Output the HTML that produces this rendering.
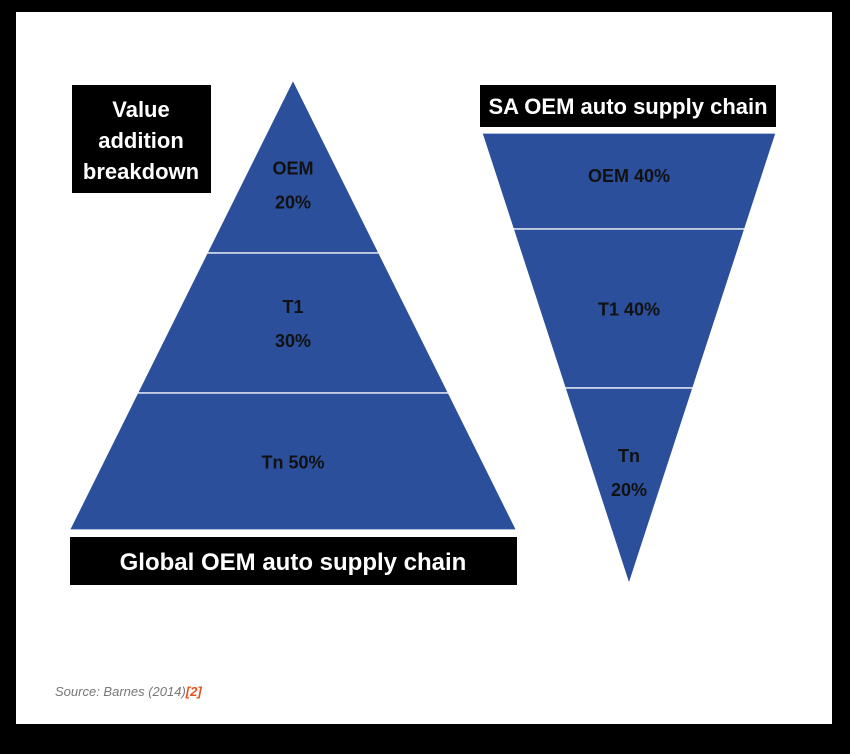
<!DOCTYPE html>
<html><head><meta charset="utf-8"><style>
body{margin:0;background:#000;width:850px;height:749px;overflow:hidden;font-family:"Liberation Sans",sans-serif}
</style></head><body>
<svg width="850" height="749">
<rect x="16" y="12" width="816" height="712" fill="#fff"/>
<g id="left"></g>
<g id="right"></g>
<rect x="72" y="85" width="139" height="108" fill="#000"/>
<text x="141" y="117" fill="#fff" font-size="22" font-weight="bold" text-anchor="middle"><tspan x="141">Value</tspan><tspan x="141" dy="31">addition</tspan><tspan x="141" dy="31">breakdown</tspan></text>
<rect x="70" y="537" width="447" height="48" fill="#000"/>
<text x="293" y="570" fill="#fff" font-size="24" font-weight="bold" text-anchor="middle">Global OEM auto supply chain</text>
<rect x="480" y="85" width="296" height="42" fill="#000"/>
<text x="628" y="114" fill="#fff" font-size="22" font-weight="bold" text-anchor="middle">SA OEM auto supply chain</text>
<text x="55" y="696" fill="#777" font-size="13" font-style="italic">Source: Barnes (2014)<tspan fill="#e8501e" font-weight="bold">[2]</tspan></text>
</svg>
<script>
const leftLabels=[["OEM","20%"],["T1","30%"],["Tn 50%"]];
const leftShares=[20,30,50];
const rightLabels=[["OEM 40%"],["T1 40%"],["Tn","20%"]];
const rightShares=[40,40,20];
const NS="http://www.w3.org/2000/svg";
function draw(g,labels,shares,apexX,yTop,yBot,halfBase,inverted){
  // height split proportional to share, top to bottom (layers listed top-first)
  const H=yBot-yTop;const tot=shares.reduce((a,b)=>a+b,0);
  const hw=y=>inverted?halfBase*(yBot-y)/H:halfBase*(y-yTop)/H;
  let y=yTop;
  shares.forEach((s,i)=>{
    const y2=y+H*s/tot;
    const p=document.createElementNS(NS,'polygon');
    p.setAttribute('points',`${apexX-hw(y)},${y} ${apexX+hw(y)},${y} ${apexX+hw(y2)},${y2} ${apexX-hw(y2)},${y2}`);
    p.setAttribute('fill','#2b4f9b');p.setAttribute('stroke','#fff');p.setAttribute('stroke-width','1.2');
    
    
    g.appendChild(p);
    const t=document.createElementNS(NS,'text');
    const lines=labels[i];const cy=(y+y2)/2+(inverted&&i==0?-6:0)+(i==2&&inverted?-14:0)+(!inverted&&i==0?18:0);
    t.setAttribute('x',apexX);t.setAttribute('text-anchor','middle');t.setAttribute('font-size','18');
    t.setAttribute('font-weight','bold');t.setAttribute('fill','#111');
    
    
    lines.forEach((l,j)=>{const ts=document.createElementNS(NS,'tspan');ts.setAttribute('x',apexX);
      ts.setAttribute('y',cy+7+(j-(lines.length-1)/2)*34);ts.textContent=l;t.appendChild(ts);});
    g.appendChild(t);y=y2;
  });
}
// left pyramid: apex top; actual segment boundaries approx 253 and 393
draw(document.getElementById('left'),leftLabels,[173/450*100,140/450*100,137/450*100].map((v,i)=>v),293,80,530,223.5,false);
draw(document.getElementById('right'),rightLabels,[96,159,196],629,133,584,147,true);
</script>
</body></html>
